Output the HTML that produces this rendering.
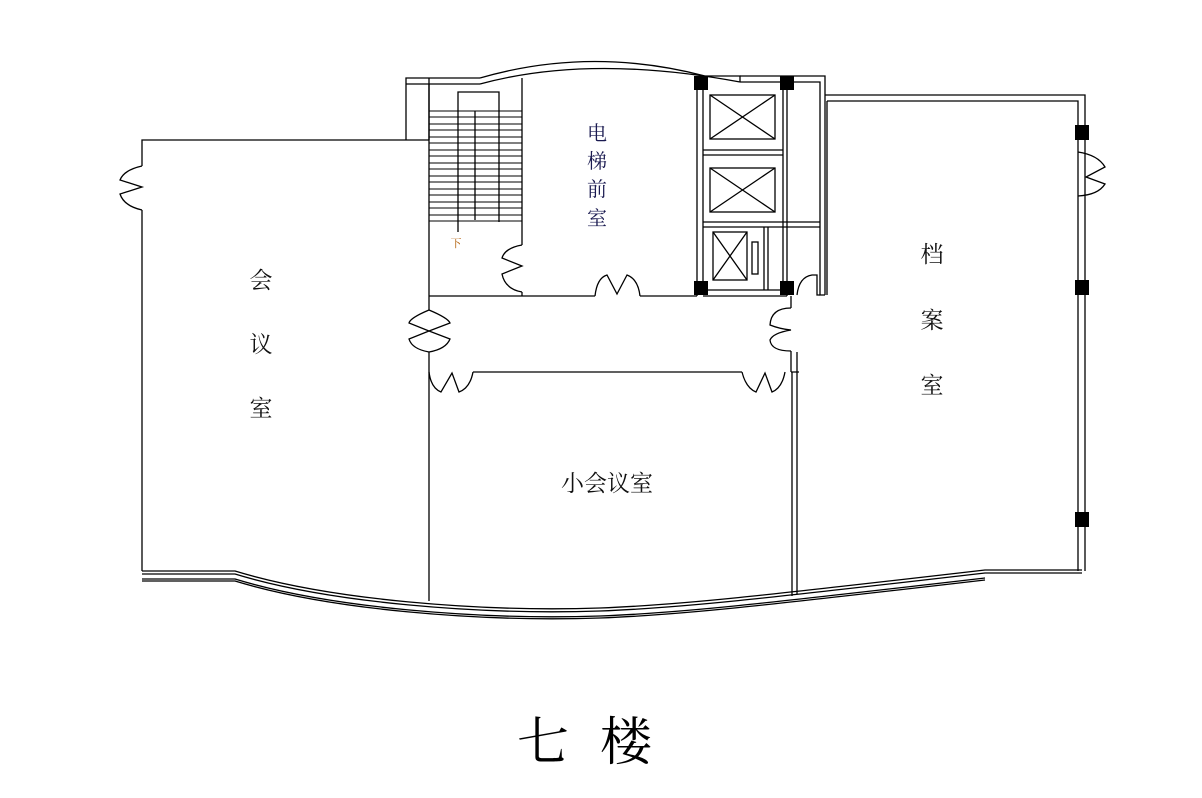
<!DOCTYPE html>
<html><head><meta charset="utf-8"><style>
html,body{margin:0;padding:0;background:#fff;}
svg{display:block;}
text{font-family:"Liberation Serif","Noto Serif CJK SC","Noto Sans CJK SC",serif;}
</style></head><body>
<svg width="1202" height="798" viewBox="0 0 1202 798" xmlns="http://www.w3.org/2000/svg">
<g fill="none" stroke="#000" stroke-width="1.3">
<path d="M142 166 V140 H429"/>
<path d="M142 210 V571"/>
<path d="M142 166 Q124 170 120 180 L142 187 L120 194 Q124 206 142 210"/>
<path d="M142 571 H235 C330 600 480 612 600 608 C680 605 760 596 985 570 H1082"/>
<path d="M142 574 H235 C330 603 480 615 600 611 C680 608 760 599 985 573 H1082"/>
<path d="M142 579 H235 C330 608 480 620 600 616 C680 613 760 604 985 578"/>
<path d="M142 581 H235 C330 610 480 622 600 618 C680 615 760 606 985 580"/>
<path d="M429 78 V310"/>
<path d="M429 352 V601"/>
<path d="M792 372 V596 M797 352 V594"/>
<path d="M406 140 V78 H480 M406 84 H480 M429 84 V140"/>
<path d="M480 78 Q590 46 705 76 M480 84 Q590 54 740 82"/>
<path d="M705 76 H740 L740 82"/>
<path d="M740 76 H825 V295 M740 82 H820 V295 H825"/>
<path d="M825 95 H1085 V571 M827 101 H1078 V571 M827 101 V295"/>
<path d="M458 232 V92 H499 V222 M475 111 V220"/>
<g stroke-width="1.1">
<path d="M429 111 H522 M429 117 H522 M429 124 H522 M429 130 H522 M429 137 H522 M429 143 H522 M429 150 H522 M429 156 H522 M429 163 H522 M429 169 H522 M429 176 H522 M429 182 H522 M429 189 H522 M429 195 H522 M429 202 H522 M429 208 H522 M429 215 H522 M429 221 H522"/>
</g>
<path d="M522 78 V245 M522 292 V296"/>
<path d="M522 245 Q505 248 502 258 L522 266 L502 274 Q505 289 522 292"/>
<path d="M429 296 H595 M640 296 H697"/>
<path d="M595 296 Q597 278 607 275 L617 294 L627 275 Q638 279 640 296"/>
<path d="M697 78 V296 M703 78 V290 M783 78 V290 M787 78 V296"/>
<path d="M703 150 H783 M703 155 H783 M703 222 H820 M703 227 H820"/>
<path d="M703 290 H783 M703 296 H787"/>
<path d="M764 227 V290 M768 227 V290"/>
<rect x="710" y="95" width="65" height="44"/><path d="M710 95 L775 139 M775 95 L710 139"/>
<rect x="710" y="168" width="65" height="44"/><path d="M710 168 L775 212 M775 168 L710 212"/>
<rect x="713" y="232" width="34" height="48"/><path d="M713 232 L747 280 M747 232 L713 280"/>
<rect x="752" y="242" width="6" height="32"/>
<path d="M797 295 Q799 277 812 275 H817 V295 H820"/>
<path d="M791 296 V308 M791 351 V372"/>
<path d="M791 308 Q771 308 770 325 Q780 329 791 330 Q773 333 770 340 Q771 351 791 351"/>
<path d="M429 310 Q410 318 409 323 L429 331 L409 339 Q412 349 429 352 M429 310 Q448 318 450 323 L429 331 L450 339 Q446 349 429 352"/>
<path d="M473 372 H742 M791 372 H799"/>
<path d="M429 372 Q431 388 441 392 L452 373 L459 392 Q470 388 473 372"/>
<path d="M742 372 Q746 388 756 392 L765 373 L772 392 Q782 388 785 372"/>
<path d="M1078 152 Q1098 155 1105 167 L1086 177 L1105 184 Q1098 195 1078 196"/>
</g>
<g fill="#000">
<rect x="694" y="76" width="14" height="14"/>
<rect x="780" y="76" width="14" height="14"/>
<rect x="694" y="281" width="14" height="14"/>
<rect x="780" y="281" width="14" height="14"/>
<rect x="1075" y="125" width="14" height="15"/>
<rect x="1075" y="280" width="14" height="15"/>
<rect x="1075" y="512" width="14" height="15"/>
</g>
<g font-size="23" fill="#111" text-anchor="middle">
<text x="261" y="288">会</text>
<text x="261" y="352">议</text>
<text x="261" y="416">室</text>
<text x="607" y="491">小会议室</text>
<text x="932" y="262">档</text>
<text x="932" y="328">案</text>
<text x="932" y="393">室</text>
</g>
<g font-size="20" fill="#1a1a50" text-anchor="middle">
<text x="597" y="140">电</text>
<text x="597" y="168">梯</text>
<text x="597" y="196">前</text>
<text x="597" y="225">室</text>
</g>
<text x="456" y="247" font-size="11" fill="#b05a00" text-anchor="middle">下</text>
<text x="543" y="760" font-size="52" fill="#000" text-anchor="middle">七</text>
<text x="626" y="760" font-size="52" fill="#000" text-anchor="middle">楼</text>
</svg>
</body></html>
